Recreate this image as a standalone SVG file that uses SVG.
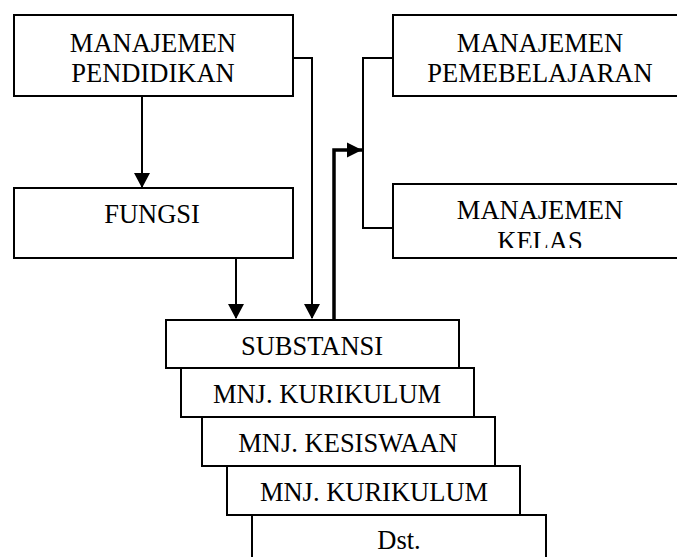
<svg xmlns="http://www.w3.org/2000/svg" width="677" height="557" viewBox="0 0 677 557">
<style>
.box{fill:#fff;stroke:#000;stroke-width:2}
.t{font-family:"Liberation Serif","Times New Roman",serif;font-size:26.5px;fill:#000;text-anchor:middle}
.ln{fill:none;stroke:#000;stroke-width:2}
.thick{fill:none;stroke:#000;stroke-width:3.5}
</style>
<defs>
<marker id="ah" markerWidth="7.5" markerHeight="8" refX="7" refY="4" orient="auto" markerUnits="strokeWidth"><path d="M0,0 L7.5,4 L0,8 Z" fill="#000"/></marker>
<marker id="ah2" markerWidth="4.4" markerHeight="4.4" refX="4.4" refY="2.2" orient="auto" markerUnits="strokeWidth"><path d="M0,0 L4.4,2.2 L0,4.4 Z" fill="#000"/></marker>
<clipPath id="kc"><rect x="393" y="184" width="290" height="64"/></clipPath>
</defs>
<rect width="677" height="557" fill="#fff"/>
<g id="connectors">
<path class="ln" d="M142,96 V187" marker-end="url(#ah)"/>
<path class="ln" d="M293,58 H312 V318" marker-end="url(#ah)"/>
<path class="ln" d="M236,258 V318" marker-end="url(#ah)"/>
<path class="thick" d="M334,320 V150 H362" marker-end="url(#ah2)"/>
<path class="ln" d="M393,58 H363 V228 H393"/>
</g>
<g id="n-pendidikan">
<rect class="box" x="14" y="15" width="279" height="81"/>
<text class="t" x="153" y="52">MANAJEMEN</text>
<text class="t" x="153" y="82">PENDIDIKAN</text>
</g>
<g id="n-fungsi">
<rect class="box" x="14" y="188" width="279" height="70"/>
<text class="t" x="152" y="223">FUNGSI</text>
</g>
<g id="n-pembelajaran">
<rect class="box" x="393" y="15" width="300" height="81"/>
<text class="t" x="540" y="52">MANAJEMEN</text>
<text class="t" x="540" y="82">PEMEBELAJARAN</text>
</g>
<g id="n-kelas">
<rect class="box" x="393" y="184" width="300" height="74"/>
<g clip-path="url(#kc)">
<text class="t" x="540" y="219">MANAJEMEN</text>
<text class="t" x="540" y="250">KELAS</text>
</g>
</g>
<g id="n-substansi">
<rect class="box" x="166" y="320" width="293" height="48"/>
<text class="t" x="312" y="355">SUBSTANSI</text>
</g>
<g id="n-kurikulum1">
<rect class="box" x="181" y="368" width="293" height="49"/>
<text class="t" x="327" y="403">MNJ. KURIKULUM</text>
</g>
<g id="n-kesiswaan">
<rect class="box" x="202" y="417" width="293" height="49"/>
<text class="t" x="348" y="452">MNJ. KESISWAAN</text>
</g>
<g id="n-kurikulum2">
<rect class="box" x="227" y="466" width="293" height="49"/>
<text class="t" x="374" y="501">MNJ. KURIKULUM</text>
</g>
<g id="n-dst">
<rect class="box" x="252" y="515" width="294" height="60"/>
<text class="t" x="399" y="549">Dst.</text>
</g>
</svg>
